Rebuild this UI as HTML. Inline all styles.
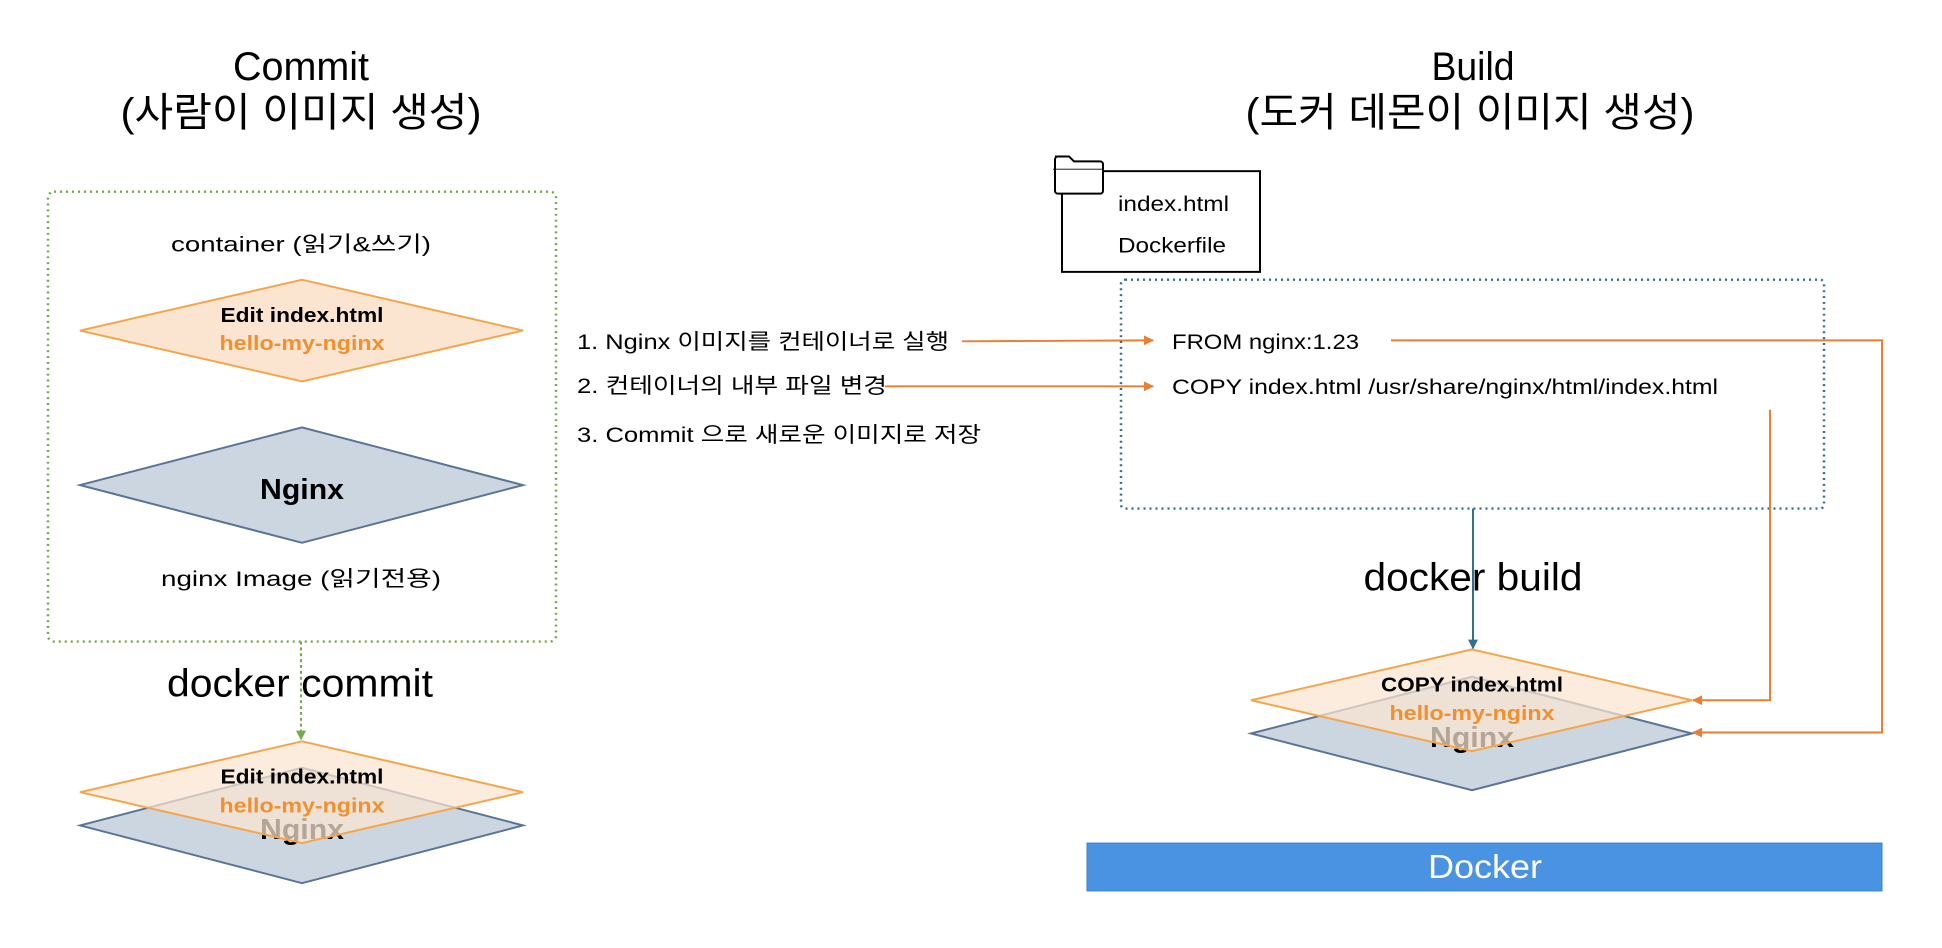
<!DOCTYPE html>
<html><head><meta charset="utf-8"><style>
html,body{margin:0;padding:0;background:#fff}
svg{display:block}
text{font-family:"Liberation Sans","Noto Sans CJK KR",sans-serif}
</style></head><body>
<svg width="1942" height="948" viewBox="0 0 1942 948" xmlns="http://www.w3.org/2000/svg">
<defs>
<marker id="ao" markerWidth="10" markerHeight="10" refX="9" refY="5" orient="auto" markerUnits="userSpaceOnUse"><path d="M0,0 L10,5 L0,10 z" fill="#ed7d31"/></marker>
<marker id="ab" markerWidth="10" markerHeight="10" refX="9" refY="5" orient="auto" markerUnits="userSpaceOnUse"><path d="M0,0 L10,5 L0,10 z" fill="#31708f"/></marker>
<marker id="ag" markerWidth="10" markerHeight="10" refX="9" refY="5" orient="auto" markerUnits="userSpaceOnUse"><path d="M0,0 L10,5 L0,10 z" fill="#70ad47"/></marker>
</defs>

<!-- Titles -->
<text x="301" y="80" font-size="40" text-anchor="middle" textLength="136" lengthAdjust="spacingAndGlyphs">Commit</text>
<text x="301" y="126" font-size="40" text-anchor="middle" textLength="361" lengthAdjust="spacingAndGlyphs">(사람이 이미지 생성)</text>
<text x="1473" y="80" font-size="40" text-anchor="middle" textLength="83" lengthAdjust="spacingAndGlyphs">Build</text>
<text x="1470" y="126" font-size="40" text-anchor="middle" textLength="449" lengthAdjust="spacingAndGlyphs">(도커 데몬이 이미지 생성)</text>

<g transform="scale(1,0.978)">
<!-- Left container -->
<rect x="48" y="196" width="508" height="460" rx="6" fill="none" stroke="#70ad47" stroke-width="2.5" stroke-dasharray="2,4"/>
<text x="301" y="257" font-size="22" text-anchor="middle" textLength="260" lengthAdjust="spacingAndGlyphs">container (읽기&amp;쓰기)</text>
<polygon points="80,338 302,286 523,338 302,390" fill="#fbe5d0" stroke="#f4a54a" stroke-width="2"/>
<text x="302" y="329" font-size="21" font-weight="bold" text-anchor="middle" textLength="163" lengthAdjust="spacingAndGlyphs">Edit index.html</text>
<text x="302" y="358" font-size="21" font-weight="bold" text-anchor="middle" fill="#f0902f" textLength="165" lengthAdjust="spacingAndGlyphs">hello-my-nginx</text>
<polygon points="80,496 302,437 523,496 302,555" fill="#cbd6e0" stroke="#5a7396" stroke-width="2"/>
<text x="302" y="510" font-size="29" font-weight="bold" text-anchor="middle" textLength="84" lengthAdjust="spacingAndGlyphs">Nginx</text>
<text x="301" y="599" font-size="22" text-anchor="middle" textLength="280" lengthAdjust="spacingAndGlyphs">nginx Image (읽기전용)</text>

<line x1="301" y1="656" x2="301" y2="756" stroke="#70ad47" stroke-width="2" stroke-dasharray="3,3" marker-end="url(#ag)"/>
<text x="300" y="712" font-size="40" text-anchor="middle" textLength="266" lengthAdjust="spacingAndGlyphs">docker commit</text>

<polygon points="80,844 302,785 523,844 302,903" fill="#cbd6e0" stroke="#5a7396" stroke-width="2"/>
<text x="302" y="858" font-size="29" font-weight="bold" text-anchor="middle" textLength="84" lengthAdjust="spacingAndGlyphs">Nginx</text>
<polygon points="80,810 302,758 523,810 302,862" fill="#fbe5d0" fill-opacity="0.72" stroke="#f4a54a" stroke-width="2"/>
<text x="302" y="801" font-size="21" font-weight="bold" text-anchor="middle" textLength="163" lengthAdjust="spacingAndGlyphs">Edit index.html</text>
<text x="302" y="831" font-size="21" font-weight="bold" text-anchor="middle" fill="#f0902f" textLength="165" lengthAdjust="spacingAndGlyphs">hello-my-nginx</text>

<!-- Steps -->
<text x="577" y="357" font-size="22" textLength="372" lengthAdjust="spacingAndGlyphs">1. Nginx 이미지를 컨테이너로 실행</text>
<text x="577" y="402" font-size="22" textLength="310" lengthAdjust="spacingAndGlyphs">2. 컨테이너의 내부 파일 변경</text>
<text x="577" y="452" font-size="22" textLength="404" lengthAdjust="spacingAndGlyphs">3. Commit 으로 새로운 이미지로 저장</text>
<line x1="962" y1="349" x2="1153" y2="348" stroke="#ed7d31" stroke-width="2" marker-end="url(#ao)"/>
<line x1="885" y1="395" x2="1153" y2="395" stroke="#ed7d31" stroke-width="2" marker-end="url(#ao)"/>

<!-- Folder -->
<rect x="1062" y="175" width="198" height="103" fill="#fff" stroke="#000" stroke-width="2"/>
<path d="M1055,160 h14 l5,5 h26 a3,3 0 0 1 3,3 v27 a3,3 0 0 1 -3,3 h-42 a3,3 0 0 1 -3,-3 v-32 a3,3 0 0 1 3,-3 z" fill="#fff" stroke="#000" stroke-width="2"/>
<line x1="1053" y1="173" x2="1103" y2="173" stroke="#000" stroke-width="1"/>
<text x="1118" y="216" font-size="22" textLength="111" lengthAdjust="spacingAndGlyphs">index.html</text>
<text x="1118" y="258" font-size="22" textLength="108" lengthAdjust="spacingAndGlyphs">Dockerfile</text>

<!-- Build box -->
<rect x="1121" y="286" width="703" height="234" rx="4" fill="none" stroke="#31708f" stroke-width="2.5" stroke-dasharray="2,4"/>
<text x="1172" y="357" font-size="22" textLength="187" lengthAdjust="spacingAndGlyphs">FROM nginx:1.23</text>
<text x="1172" y="403" font-size="22" textLength="546" lengthAdjust="spacingAndGlyphs">COPY index.html /usr/share/nginx/html/index.html</text>

<line x1="1473" y1="520" x2="1473" y2="663" stroke="#31708f" stroke-width="2" marker-end="url(#ab)"/>
<text x="1473" y="604" font-size="40" text-anchor="middle" textLength="219" lengthAdjust="spacingAndGlyphs">docker build</text>

<polygon points="1251,750 1472,692 1692,750 1472,808" fill="#cbd6e0" stroke="#5a7396" stroke-width="2"/>
<text x="1472" y="764" font-size="29" font-weight="bold" text-anchor="middle" textLength="84" lengthAdjust="spacingAndGlyphs">Nginx</text>
<polygon points="1251,716 1472,664 1692,716 1472,768" fill="#fbe5d0" fill-opacity="0.72" stroke="#f4a54a" stroke-width="2"/>
<text x="1472" y="707" font-size="21" font-weight="bold" text-anchor="middle" textLength="182" lengthAdjust="spacingAndGlyphs">COPY index.html</text>
<text x="1472" y="736" font-size="21" font-weight="bold" text-anchor="middle" fill="#f0902f" textLength="165" lengthAdjust="spacingAndGlyphs">hello-my-nginx</text>

<polyline points="1391,348 1882,348 1882,749 1693,749" fill="none" stroke="#ed7d31" stroke-width="2" marker-end="url(#ao)"/>
<polyline points="1770,419 1770,716 1693,716" fill="none" stroke="#ed7d31" stroke-width="2" marker-end="url(#ao)"/>

<!-- Docker bar -->
<rect x="1087" y="862" width="795" height="49" fill="#4a93e2" stroke="#3a80d0" stroke-width="1"/>
<text x="1485" y="898" font-size="34" text-anchor="middle" fill="#fff" textLength="114" lengthAdjust="spacingAndGlyphs">Docker</text>
</g>
</svg>
</body></html>
